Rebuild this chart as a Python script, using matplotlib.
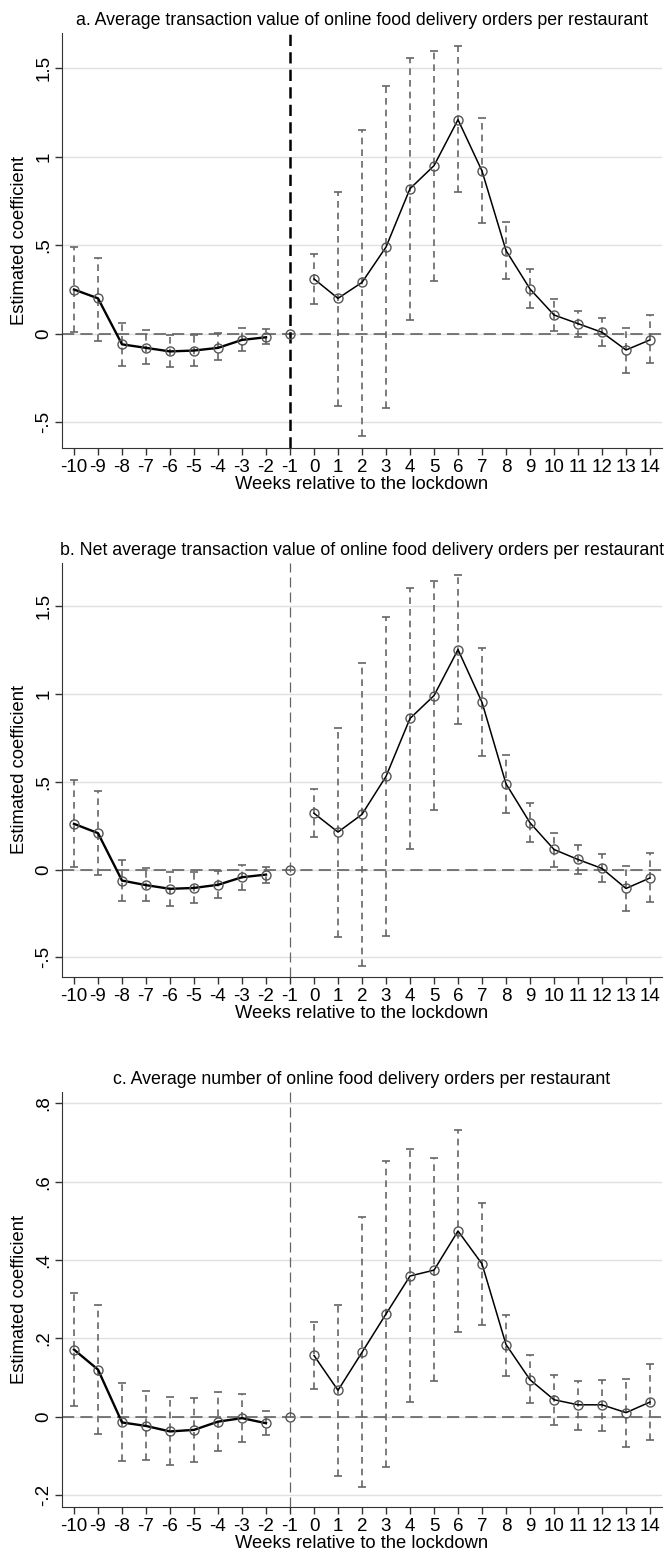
import numpy as np
import matplotlib.pyplot as plt
from matplotlib.ticker import FuncFormatter

plt.rcParams['font.family'] = ['Liberation Sans', 'DejaVu Sans']
plt.rcParams['axes.unicode_minus'] = False

weeks = list(range(-10, 15))

# panel a: average transaction value
coef_a = [0.25, 0.20, -0.06, -0.08, -0.10, -0.095, -0.08, -0.035, -0.02, 0.0,
          0.31, 0.20, 0.29, 0.49, 0.82, 0.95, 1.21, 0.92, 0.47, 0.253,
          0.106, 0.057, 0.008, -0.092, -0.035]
hi_a = [0.49, 0.43, 0.06, 0.02, -0.005, -0.005, 0.005, 0.035, 0.025, 0.0,
        0.45, 0.80, 1.15, 1.40, 1.56, 1.60, 1.625, 1.22, 0.63, 0.365,
        0.196, 0.127, 0.087, 0.034, 0.105]
lo_a = [0.01, -0.04, -0.18, -0.17, -0.19, -0.18, -0.15, -0.10, -0.06, 0.0,
        0.17, -0.41, -0.58, -0.42, 0.08, 0.30, 0.80, 0.625, 0.31, 0.144,
        0.016, -0.02, -0.07, -0.22, -0.165]

# panel b: net average transaction value
coef_b = [0.26, 0.207, -0.063, -0.089, -0.11, -0.105, -0.087, -0.044, -0.029, 0.0,
          0.32, 0.213, 0.314, 0.53, 0.86, 0.99, 1.252, 0.952, 0.488, 0.266,
          0.114, 0.057, 0.006, -0.108, -0.048]
hi_b = [0.507, 0.445, 0.055, 0.01, -0.013, -0.013, -0.006, 0.025, 0.017, 0.0,
        0.46, 0.808, 1.173, 1.435, 1.60, 1.644, 1.674, 1.262, 0.65, 0.378,
        0.205, 0.137, 0.086, 0.021, 0.093]
lo_b = [0.013, -0.029, -0.18, -0.18, -0.205, -0.19, -0.163, -0.114, -0.074, 0.0,
        0.184, -0.382, -0.549, -0.378, 0.116, 0.34, 0.83, 0.644, 0.321, 0.154,
        0.017, -0.025, -0.072, -0.234, -0.186]

# panel c: average number of orders
coef_c = [0.171, 0.12, -0.015, -0.024, -0.038, -0.034, -0.013, -0.004, -0.017, 0.0,
          0.156, 0.067, 0.164, 0.262, 0.359, 0.374, 0.474, 0.39, 0.184, 0.094,
          0.043, 0.03, 0.03, 0.01, 0.037]
hi_c = [0.316, 0.285, 0.087, 0.065, 0.049, 0.047, 0.064, 0.058, 0.013, 0.0,
        0.242, 0.285, 0.509, 0.653, 0.684, 0.66, 0.733, 0.545, 0.26, 0.156,
        0.105, 0.092, 0.094, 0.097, 0.134]
lo_c = [0.026, -0.045, -0.114, -0.111, -0.124, -0.116, -0.089, -0.066, -0.046, 0.0,
        0.07, -0.152, -0.181, -0.13, 0.036, 0.09, 0.216, 0.235, 0.103, 0.034,
        -0.021, -0.034, -0.038, -0.077, -0.06]

titles = [
    'a. Average transaction value of online food delivery orders per restaurant',
    'b. Net average transaction value of online food delivery orders per restaurant',
    'c. Average number of online food delivery orders per restaurant',
]
yticks = [[-0.5, 0, 0.5, 1, 1.5], [-0.5, 0, 0.5, 1, 1.5], [-0.2, 0, 0.2, 0.4, 0.6, 0.8]]
ylims = [(-0.646, 1.70), (-0.612, 1.745), (-0.231, 0.829)]
# axes boxes in pixels: (top, bottom)
boxes = [(33, 448), (563, 977), (1092, 1507)]


def stata_fmt(v, pos):
    s = ('%g' % round(v, 3))
    if s.startswith('0.'):
        s = s[1:]
    elif s.startswith('-0.'):
        s = '-' + s[2:]
    return s


def draw_panel(ax, coef, lo, hi, title, ticks, ylim, bold_vline):
    w = np.array(weeks)
    coef = np.array(coef)
    lo = np.array(lo)
    hi = np.array(hi)

    for t in ticks:
        ax.axhline(t, color='#e0e0e0', lw=1.0, zorder=0)
    ax.axhline(0, color='#555555', lw=1.1, ls=(0, (8, 4)), zorder=1)
    if bold_vline:
        ax.axvline(-1, color='black', lw=1.8, ls=(0, (4.5, 2.5)), zorder=1)
    else:
        ax.axvline(-1, color='#666666', lw=0.9, ls=(0, (8, 4)), zorder=1)

    has_ci = w != -1
    eb = ax.errorbar(w[has_ci], coef[has_ci],
                     yerr=[coef[has_ci] - lo[has_ci], hi[has_ci] - coef[has_ci]],
                     fmt='none', ecolor='#666666', elinewidth=1.2,
                     capsize=2.6, capthick=1.2, zorder=2)
    eb[2][0].set_linestyle((0, (4, 3)))

    pre = w <= -2
    post = w >= 0
    ax.plot(w[pre], coef[pre], color='black', lw=1.7, zorder=3)
    ax.plot(w[post], coef[post], color='black', lw=1.1, zorder=3)
    ax.plot(w, coef, ls='none', marker='o', ms=6.5, mfc='none',
            mec='#555555', mew=1.0, zorder=4)

    ax.set_xlim(-10.5, 14.5)
    ax.set_ylim(*ylim)
    ax.set_xticks(weeks)
    ax.set_yticks(ticks)
    ax.yaxis.set_major_formatter(FuncFormatter(stata_fmt))
    ax.tick_params(axis='both', labelsize=13.5, length=5, width=1.0,
                   color='#333333')
    ax.tick_params(axis='x', pad=3)
    ax.tick_params(axis='y', pad=2)
    for lab in ax.get_yticklabels():
        lab.set_rotation(90)
        lab.set_va('center')
    ax.spines['top'].set_visible(False)
    ax.spines['right'].set_visible(False)
    ax.spines['left'].set_color('#333333')
    ax.spines['bottom'].set_color('#333333')
    ax.set_ylabel('Estimated coefficient', fontsize=13.2, labelpad=5)
    ax.set_xlabel('Weeks relative to the lockdown', fontsize=13.2, labelpad=0)
    ax.set_title(title, fontsize=12.8, pad=6)


W, H = 668, 1553
fig = plt.figure(figsize=(W / 100, H / 100), dpi=100)
data = [(coef_a, lo_a, hi_a), (coef_b, lo_b, hi_b), (coef_c, lo_c, hi_c)]
for i, (top, bottom) in enumerate(boxes):
    ax = fig.add_axes([62 / W, 1 - bottom / H, 600 / W, (bottom - top) / H])
    c, lo, hi = data[i]
    draw_panel(ax, c, lo, hi, titles[i], yticks[i], ylims[i], bold_vline=(i == 0))

fig.savefig('out.png', dpi=100)
